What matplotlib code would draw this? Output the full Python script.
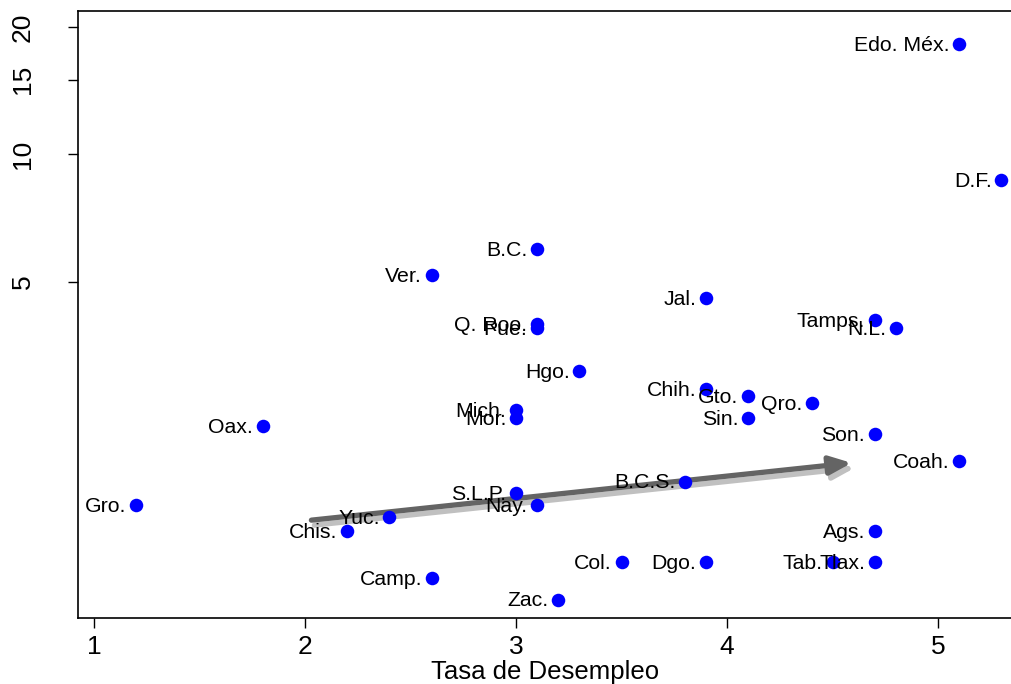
import matplotlib
matplotlib.use("Agg")
import matplotlib.pyplot as plt
import matplotlib.transforms as mtransforms

plt.rcParams['font.family'] = ['Liberation Sans', 'DejaVu Sans']

estados = ["Edo. Méx.", "D.F.", "B.C.", "Ver.", "Jal.", "Q. Roo.", "Pue.", "Tamps.", "N.L.",
           "Hgo.", "Chih.", "Gto.", "Qro.", "Mich.", "Mor.", "Sin.", "Oax.", "Son.", "Coah.",
           "B.C.S.", "S.L.P.", "Gro.", "Nay.", "Yuc.", "Chis.", "Ags.", "Col.", "Dgo.", "Tab.",
           "Tlax.", "Camp.", "Zac."]
desempleo = [5.1, 5.3, 3.1, 2.6, 3.9, 3.1, 3.1, 4.7, 4.8,
             3.3, 3.9, 4.1, 4.4, 3.0, 3.0, 4.1, 1.8, 4.7, 5.1,
             3.8, 3.0, 1.2, 3.1, 2.4, 2.2, 4.7, 3.5, 3.9, 4.5,
             4.7, 2.6, 3.2]
valor_y = [18.2, 8.7, 5.98, 5.19, 4.58, 3.98, 3.89, 4.07, 3.89,
           3.08, 2.80, 2.69, 2.59, 2.49, 2.39, 2.39, 2.29, 2.19, 1.89,
           1.69, 1.59, 1.49, 1.49, 1.39, 1.29, 1.29, 1.09, 1.09, 1.09,
           1.09, 1.0, 0.89]

# flecha de tendencia (inicio, fin)
flecha_x = [2.03, 4.59]
flecha_y = [1.37, 1.87]

x_ticks = [1, 2, 3, 4, 5]
y_ticks = [5, 10, 15, 20]

fig = plt.figure(figsize=(10.12, 6.84), dpi=100)
ax = fig.add_axes([78 / 1012, 66 / 684, 1 - 78 / 1012, 607 / 684])

ax.set_yscale('log')
ax.set_xlim(0.924, 5.35)
ax.set_ylim(0.805, 21.8)

estilo = '-|>,head_length=1.3,head_width=0.55'
# sombra de la flecha
sombra = mtransforms.offset_copy(ax.transData, fig=fig, x=3, y=-5, units='dots')
ax.annotate("", xy=(flecha_x[1], flecha_y[1]), xytext=(flecha_x[0], flecha_y[0]),
            xycoords=sombra, textcoords=sombra,
            arrowprops=dict(arrowstyle=estilo, color='#c0c0c0',
                            lw=3.8, mutation_scale=10, shrinkA=0, shrinkB=0))
ax.annotate("", xy=(flecha_x[1], flecha_y[1]), xytext=(flecha_x[0], flecha_y[0]),
            arrowprops=dict(arrowstyle=estilo, color='#646464',
                            lw=3.8, mutation_scale=10, shrinkA=0, shrinkB=0))

ax.scatter(desempleo, valor_y, s=95, color='#0000ff', zorder=3, linewidths=0)
for nombre, xv, yv in zip(estados, desempleo, valor_y):
    ax.annotate(nombre, (xv, yv), xytext=(-7, -1), textcoords='offset points',
                ha='right', va='center', fontsize=15.3, color='black')

ax.set_xticks(x_ticks)
ax.set_xticklabels([str(t) for t in x_ticks])
ax.set_yticks(y_ticks)
ax.set_yticklabels([str(t) for t in y_ticks], rotation=90, va='center')
ax.yaxis.set_minor_locator(matplotlib.ticker.NullLocator())
ax.tick_params(axis='both', direction='out', length=7, width=1, labelsize=19)
ax.tick_params(axis='x', pad=5)
ax.tick_params(axis='y', pad=24)

ax.spines['right'].set_visible(False)
for s in ['left', 'top', 'bottom']:
    ax.spines[s].set_linewidth(1.2)

ax.set_xlabel("Tasa de Desempleo", fontsize=18.5, labelpad=1)

fig.savefig("out.png", dpi=100)
